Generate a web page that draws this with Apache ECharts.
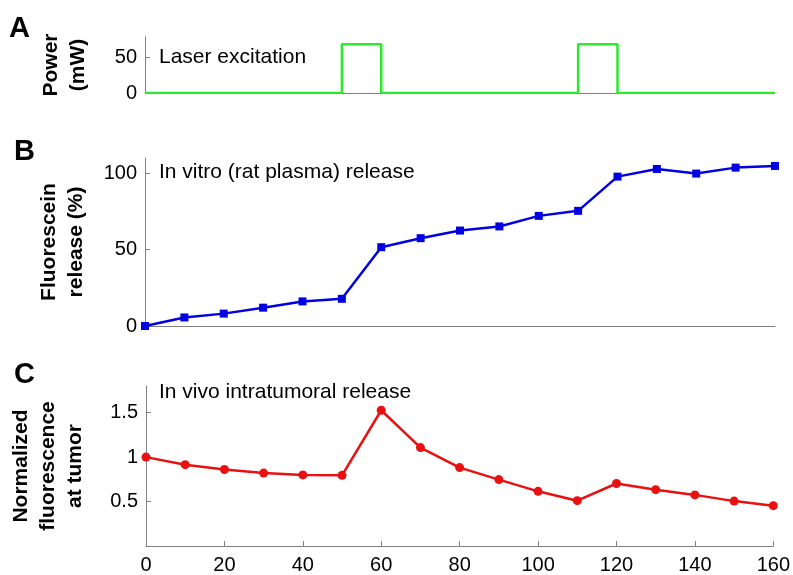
<!DOCTYPE html>
<html>
<head>
<meta charset="utf-8">
<script src="https://cdn.jsdelivr.net/npm/echarts@6/dist/echarts.min.js"></script>
<style>
  html, body { margin: 0; padding: 0; background: #fff; }
  #chart { width: 793px; height: 575px; }
</style>
</head>
<body>
<div id="chart"></div>
<script>
// time in minutes
const times = [0, 10, 20, 30, 40, 50, 60, 70, 80, 90, 100, 110, 120, 130, 140, 150, 160];
// laser power (mW), step changes
const laserTimes = [0, 50, 60, 110, 120, 160];
const laserPower = [0, 68, 0, 68, 0, 0];
// panel B: fluorescein release (%)
const releaseInVitro = [0, 5.6, 8.1, 12.0, 16.1, 17.8, 51.6, 57.5, 62.5, 65.2, 72.1, 75.4, 97.8, 102.8, 99.8, 103.7, 104.8];
// panel C: normalized fluorescence at tumor
const fluorescenceInVivo = [1.0, 0.915, 0.86, 0.82, 0.80, 0.795, 1.527, 1.107, 0.882, 0.747, 0.615, 0.51, 0.703, 0.634, 0.575, 0.505, 0.454];
const xTicks = [0, 20, 40, 60, 80, 100, 120, 140, 160];
const powerTicks = [0, 50];
const releaseTicks = [0, 50, 100];
const fluoTicks = [0.5, 1, 1.5];

const FONT = 'Liberation Sans, Arial, sans-serif';
const axisGray = '#808080';

function pairs(xs, ys) {
    return xs.map((x, i) => [x, ys[i]]);
}

function makeY(idx, max, ticks, name, gap) {
    return {
        gridIndex: idx, type: 'value', min: 0, max: max,
        axisLine: { show: true, lineStyle: { color: axisGray, width: 1 } },
        axisTick: { show: true, inside: true, length: 5, customValues: ticks, lineStyle: { color: axisGray } },
        axisLabel: {
            customValues: ticks, color: '#000', fontSize: 20, fontFamily: FONT, margin: 8,
            formatter: v => String(+v.toFixed(2))
        },
        splitLine: { show: false },
        name: name, nameLocation: 'middle', nameGap: gap, nameRotate: 90,
        nameTextStyle: { color: '#000', fontSize: 21, fontWeight: 'bold', fontFamily: FONT, lineHeight: 27 }
    };
}

function makeX(idx, showLabels) {
    return {
        gridIndex: idx, type: 'value', min: 0, max: 160, interval: 20,
        axisLine: { show: true, onZero: false, lineStyle: { color: axisGray, width: 1 } },
        axisTick: { show: showLabels, inside: true, length: 5, customValues: xTicks, lineStyle: { color: axisGray } },
        axisLabel: { show: showLabels, customValues: xTicks, color: '#000', fontSize: 20, fontFamily: FONT, margin: 9 },
        splitLine: { show: false }
    };
}

const letterStyle = { fontSize: 29, fontWeight: 'bold', fontFamily: FONT, color: '#000' };
const noteStyle = { fontSize: 21, fontWeight: 'normal', fontFamily: FONT, color: '#000' };

const chart = echarts.init(document.getElementById('chart'));
const option = {
    backgroundColor: '#fff',
    animation: false,
    title: [
        { text: 'A', left: 9, top: 14, padding: 0, textStyle: letterStyle },
        { text: 'B', left: 14, top: 137, padding: 0, textStyle: letterStyle },
        { text: 'C', left: 14, top: 360, padding: 0, textStyle: letterStyle },
        { text: 'Laser excitation', left: 159, top: 47, padding: 0, textStyle: noteStyle },
        { text: 'In vitro (rat plasma) release', left: 159, top: 162, padding: 0, textStyle: noteStyle },
        { text: 'In vivo intratumoral release', left: 159, top: 382, padding: 0, textStyle: noteStyle }
    ],
    grid: [
        { left: 145, right: 18, top: 37, height: 56 },
        { left: 145, right: 18, top: 158, height: 168 },
        { left: 145, right: 18, top: 386, height: 164 }
    ],
    xAxis: [makeX(0, false), makeX(1, false), makeX(2, true)],
    yAxis: [
        makeY(0, 78, powerTicks, 'Power\n(mW)', 53),
        makeY(1, 110, releaseTicks, 'Fluorescein\nrelease (%)', 55),
        makeY(2, 1.8, fluoTicks, 'Normalized\nfluorescence\nat tumor', 57)
    ],
    series: [
        {
            type: 'line', xAxisIndex: 0, yAxisIndex: 0, step: 'end',
            data: pairs(laserTimes, laserPower), showSymbol: false,
            lineStyle: { color: '#2bea2b', width: 2.5 }
        },
        {
            type: 'line', xAxisIndex: 1, yAxisIndex: 1,
            data: pairs(times, releaseInVitro), symbol: 'rect', symbolSize: 8,
            itemStyle: { color: '#0000e0' }, lineStyle: { color: '#0000e0', width: 2.5 }
        },
        {
            type: 'line', xAxisIndex: 2, yAxisIndex: 2,
            data: pairs(times, fluorescenceInVivo), symbol: 'circle', symbolSize: 9,
            itemStyle: { color: '#e81010' }, lineStyle: { color: '#e81010', width: 2.5 }
        }
    ]
};
chart.setOption(option);
</script>
</body>
</html>
